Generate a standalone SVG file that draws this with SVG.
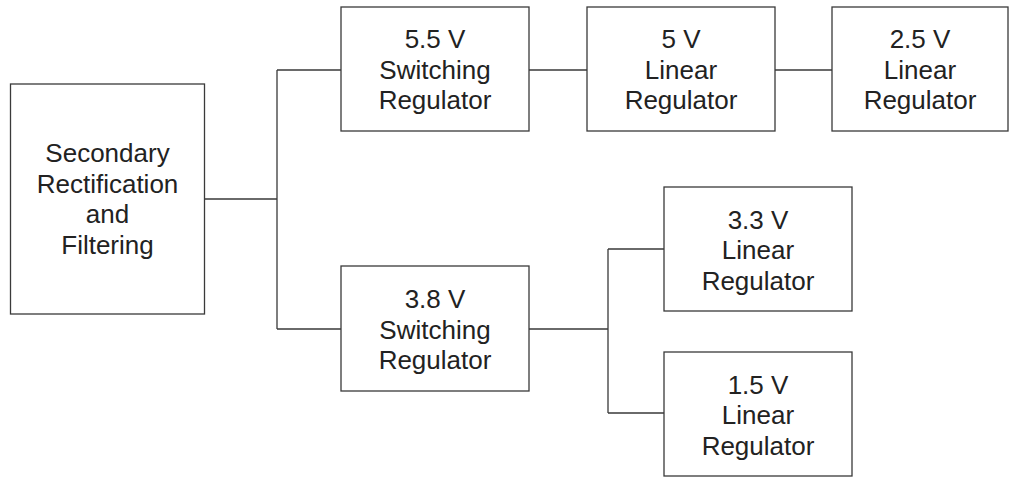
<svg xmlns="http://www.w3.org/2000/svg" width="1013" height="477" viewBox="0 0 1013 477">
<style>
.box{fill:#fff;stroke:#3a3a3a;stroke-width:1.3}
.lbl{font-family:"Liberation Sans",Arial,sans-serif;font-size:26px;fill:#222;text-anchor:middle}
.wire{fill:none;stroke:#3a3a3a;stroke-width:1.3}
</style>
<rect width="1013" height="477" fill="#fff"/>
<g id="connectors">
<path class="wire" d="M204.5 199H277M277 70V329M277 70H341M277 329H341M529 70H587M775 70H832M529 329H608M608 249V413M608 249H664M608 413H664"/>
</g>
<g id="source">
<rect class="box" x="10.5" y="84" width="194" height="230"/>
<text class="lbl" x="107.5" y="162">Secondary</text>
<text class="lbl" x="107.5" y="192.5">Rectification</text>
<text class="lbl" x="107.5" y="223">and</text>
<text class="lbl" x="107.5" y="253.5">Filtering</text>
</g>
<g id="sw55">
<rect class="box" x="341" y="7" width="188" height="124"/>
<text class="lbl" x="435" y="48">5.5 V</text>
<text class="lbl" x="435" y="78.5">Switching</text>
<text class="lbl" x="435" y="109">Regulator</text>
</g>
<g id="lin5">
<rect class="box" x="587" y="7" width="188" height="124"/>
<text class="lbl" x="681" y="48">5 V</text>
<text class="lbl" x="681" y="78.5">Linear</text>
<text class="lbl" x="681" y="109">Regulator</text>
</g>
<g id="lin25">
<rect class="box" x="832" y="7" width="176" height="124"/>
<text class="lbl" x="920" y="48">2.5 V</text>
<text class="lbl" x="920" y="78.5">Linear</text>
<text class="lbl" x="920" y="109">Regulator</text>
</g>
<g id="sw38">
<rect class="box" x="341" y="266" width="188" height="125"/>
<text class="lbl" x="435" y="308">3.8 V</text>
<text class="lbl" x="435" y="338.5">Switching</text>
<text class="lbl" x="435" y="369">Regulator</text>
</g>
<g id="lin33">
<rect class="box" x="664" y="187" width="188" height="124"/>
<text class="lbl" x="758" y="228.5">3.3 V</text>
<text class="lbl" x="758" y="259">Linear</text>
<text class="lbl" x="758" y="289.5">Regulator</text>
</g>
<g id="lin15">
<rect class="box" x="664" y="352" width="188" height="124"/>
<text class="lbl" x="758" y="393.5">1.5 V</text>
<text class="lbl" x="758" y="424">Linear</text>
<text class="lbl" x="758" y="454.5">Regulator</text>
</g>
</svg>
